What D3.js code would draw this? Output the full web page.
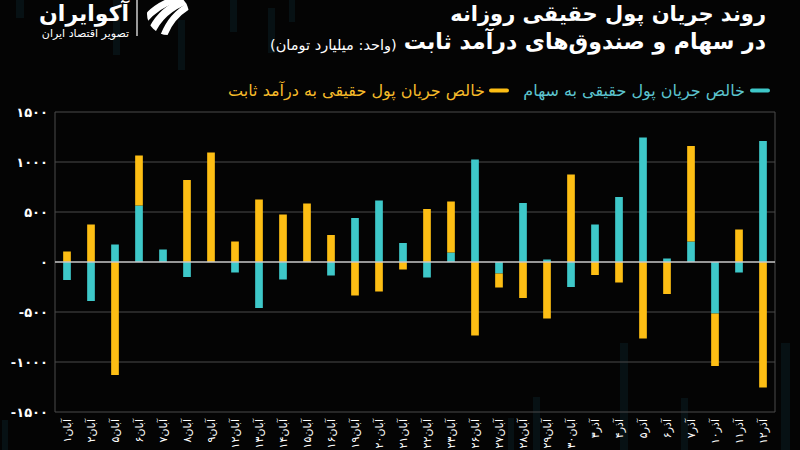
<!DOCTYPE html>
<html>
<head>
<meta charset="utf-8">
<script src="https://cdn.jsdelivr.net/npm/d3@7"></script>
<style>
  html, body { margin: 0; padding: 0; background: #040404; }
  svg { display: block; }
  text { font-family: "DejaVu Sans", "Noto Sans", sans-serif; }
</style>
</head>
<body>
<svg id="chart" width="800" height="450"></svg>
<script>
// ---- data ----
const days = ["آبان۱","آبان۲","آبان۵","آبان۶","آبان۷","آبان۸","آبان۹","آبان۱۲","آبان۱۳","آبان۱۴","آبان۱۵","آبان۱۶","آبان۱۹","آبان۲۰","آبان۲۱","آبان۲۲","آبان۲۳","آبان۲۶","آبان۲۷","آبان۲۸","آبان۲۹","آبان۳۰","آذر۳","آذر۴","آذر۵","آذر۶","آذر۷","آذر۱۰","آذر۱۱","آذر۱۲"];
const stockFlow = [-180, -390, 175, 565, 125, -150, 0, -105, -460, -175, 0, -135, 440, 615, 190, -155, 95, 1025, -115, 590, 25, -250, 375, 650, 1245, 35, 205, -515, -105, 1210];
const fixedIncomeFlow = [105, 375, -1130, 500, 0, 820, 1095, 205, 625, 475, 585, 270, -335, -295, -75, 530, 510, -735, -140, -360, -565, 875, -130, -205, -765, -320, 955, -525, 325, -1255];
const yTicks = [-1500, -1000, -500, 0, 500, 1000, 1500];
const seriesNames = ["خالص جریان پول حقیقی به سهام", "خالص جریان پول حقیقی به درآمد ثابت"];
const titleLine1 = "روند جریان پول حقیقی روزانه";
const titleLine2 = "در سهام و صندوق‌های درآمد ثابت";
const unitText = "(واحد: میلیارد تومان)";

const colors = { stock: "#3ec8c9", fixed: "#fdbe14" };

const svg = d3.select("#chart");
const W = 800, H = 450;
const plot = { left: 55, right: 775, top: 112, bottom: 412 };

svg.append("rect").attr("width", W).attr("height", H).attr("fill", "#040404");

// faint decorative stripes
const stripes = [[16,0,8,18],[113,0,7,55],[178,20,7,50],[230,0,7,32],[268,8,7,45],[289,0,6,22],
  [533,397,7,53],[508,418,6,32],[620,343,8,107],[681,398,7,52],[781,343,9,107],[2,420,6,30]];
svg.append("g").selectAll("rect").data(stripes).join("rect")
  .attr("x", d => d[0]).attr("y", d => d[1]).attr("width", d => d[2]).attr("height", d => d[3])
  .attr("fill", "#0f2a33").attr("opacity", 0.35);

const toPersian = n => String(n).replace(/\d/g, d => "۰۱۲۳۴۵۶۷۸۹"[d]);

const x = d3.scaleBand().domain(days).range([plot.left, plot.right]).paddingInner(0.68).paddingOuter(0.34);
const y = d3.scaleLinear().domain([-1500, 1500]).range([plot.bottom, plot.top]);

// grid
const grid = svg.append("g");
grid.selectAll("line").data(yTicks.filter(t => t !== 0)).join("line")
  .attr("x1", plot.left).attr("x2", plot.right)
  .attr("y1", d => y(d)).attr("y2", d => y(d))
  .attr("stroke", "#4a4a4a").attr("stroke-width", 1);
grid.append("line").attr("x1", plot.left).attr("x2", plot.left).attr("y1", plot.top).attr("y2", plot.bottom)
  .attr("stroke", "#4a4a4a");
grid.append("line").attr("x1", plot.right).attr("x2", plot.right).attr("y1", plot.top).attr("y2", plot.bottom)
  .attr("stroke", "#4a4a4a");

// y axis labels
const yAxis = d3.axisLeft(y).tickValues(yTicks).tickSize(0).tickPadding(7)
  .tickFormat(d => (d < 0 ? "-" : "") + toPersian(Math.abs(d)));
const yg = svg.append("g").attr("transform", `translate(${plot.left},0)`).call(yAxis);
yg.select(".domain").remove();
yg.selectAll("text").attr("fill", "#ffffff").attr("font-size", 13).attr("font-weight", "bold")
  .style("font-family", "DejaVu Sans");

// stacked bars
const rows = days.map((d, i) => ({ day: d, stock: stockFlow[i], fixed: fixedIncomeFlow[i] }));
const stack = d3.stack().keys(["stock", "fixed"]).offset(d3.stackOffsetDiverging);
const series = stack(rows);
svg.append("g").selectAll("g").data(series).join("g")
  .attr("fill", s => colors[s.key])
  .selectAll("rect").data(s => s).join("rect")
  .attr("x", d => x(d.data.day))
  .attr("width", x.bandwidth())
  .attr("y", d => y(Math.max(d[0], d[1])))
  .attr("height", d => Math.abs(y(d[0]) - y(d[1])));

// zero line
svg.append("line").attr("x1", plot.left).attr("x2", plot.right).attr("y1", y(0)).attr("y2", y(0))
  .attr("stroke", "#c8c8c8").attr("stroke-width", 1.6);

// x axis labels
const xAxis = d3.axisBottom(x).tickSize(0).tickPadding(0);
const xg = svg.append("g").attr("transform", `translate(0,${plot.bottom})`).call(xAxis);
xg.select(".domain").remove();
xg.selectAll("text")
  .attr("fill", "#ffffff").attr("font-size", 11)
  .attr("text-anchor", "end")
  .attr("transform", "rotate(-90)")
  .attr("x", -7).attr("y", 0).attr("dy", "0.35em");

// title
svg.append("text").attr("x", 766).attr("y", 21).attr("text-anchor", "end")
  .attr("fill", "#fff").attr("font-size", 21).attr("font-weight", "bold").text(titleLine1);
const t2 = svg.append("text").attr("x", 766).attr("y", 49).attr("text-anchor", "end")
  .attr("fill", "#fff").attr("font-size", 22).attr("font-weight", "bold").text(titleLine2);
const t2w = t2.node().getComputedTextLength();
svg.append("text").attr("x", 766 - t2w - 7).attr("y", 50).attr("text-anchor", "end")
  .attr("fill", "#fff").attr("font-size", 14.5).text(unitText);

// legend
const lg = svg.append("g");
lg.append("rect").attr("x", 750).attr("y", 88.5).attr("width", 20).attr("height", 4).attr("rx", 2).attr("fill", colors.stock);
lg.append("text").attr("x", 745).attr("y", 96).attr("text-anchor", "end").attr("fill", "#5cc4cf")
  .attr("font-size", 16).text(seriesNames[0]);
lg.append("rect").attr("x", 489).attr("y", 88.5).attr("width", 20).attr("height", 4).attr("rx", 2).attr("fill", colors.fixed);
lg.append("text").attr("x", 485).attr("y", 96).attr("text-anchor", "end").attr("fill", "#f6bb2a")
  .attr("font-size", 16).text(seriesNames[1]);

// logo
const logo = svg.append("g");
logo.append("text").attr("x", 129).attr("y", 21).attr("text-anchor", "end").attr("fill", "#fff")
  .attr("font-size", 22).attr("font-weight", "bold").text("آکوایران");
logo.append("text").attr("x", 129).attr("y", 37).attr("text-anchor", "end").attr("fill", "#fff")
  .attr("font-size", 11).text("تصویر اقتصاد ایران");
logo.append("line").attr("x1", 137).attr("x2", 137).attr("y1", 0).attr("y2", 36).attr("stroke", "#fff").attr("stroke-width", 1.2);
const clip = svg.append("defs").append("clipPath").attr("id", "logoclip");
clip.append("circle").attr("cx", 168).attr("cy", 14).attr("r", 21);
const icon = logo.append("g").attr("clip-path", "url(#logoclip)");
[[-14, 3], [0, 3.5], [14, 3]].forEach(([o, w]) => {
  icon.append("path")
    .attr("d", `M ${150 + o} ${35} Q ${160 + o} ${9} ${190 + o} ${-1}`)
    .attr("fill", "none").attr("stroke", "#fff").attr("stroke-width", w * 2.2).attr("stroke-linecap", "round");
});
</script>
</body>
</html>
